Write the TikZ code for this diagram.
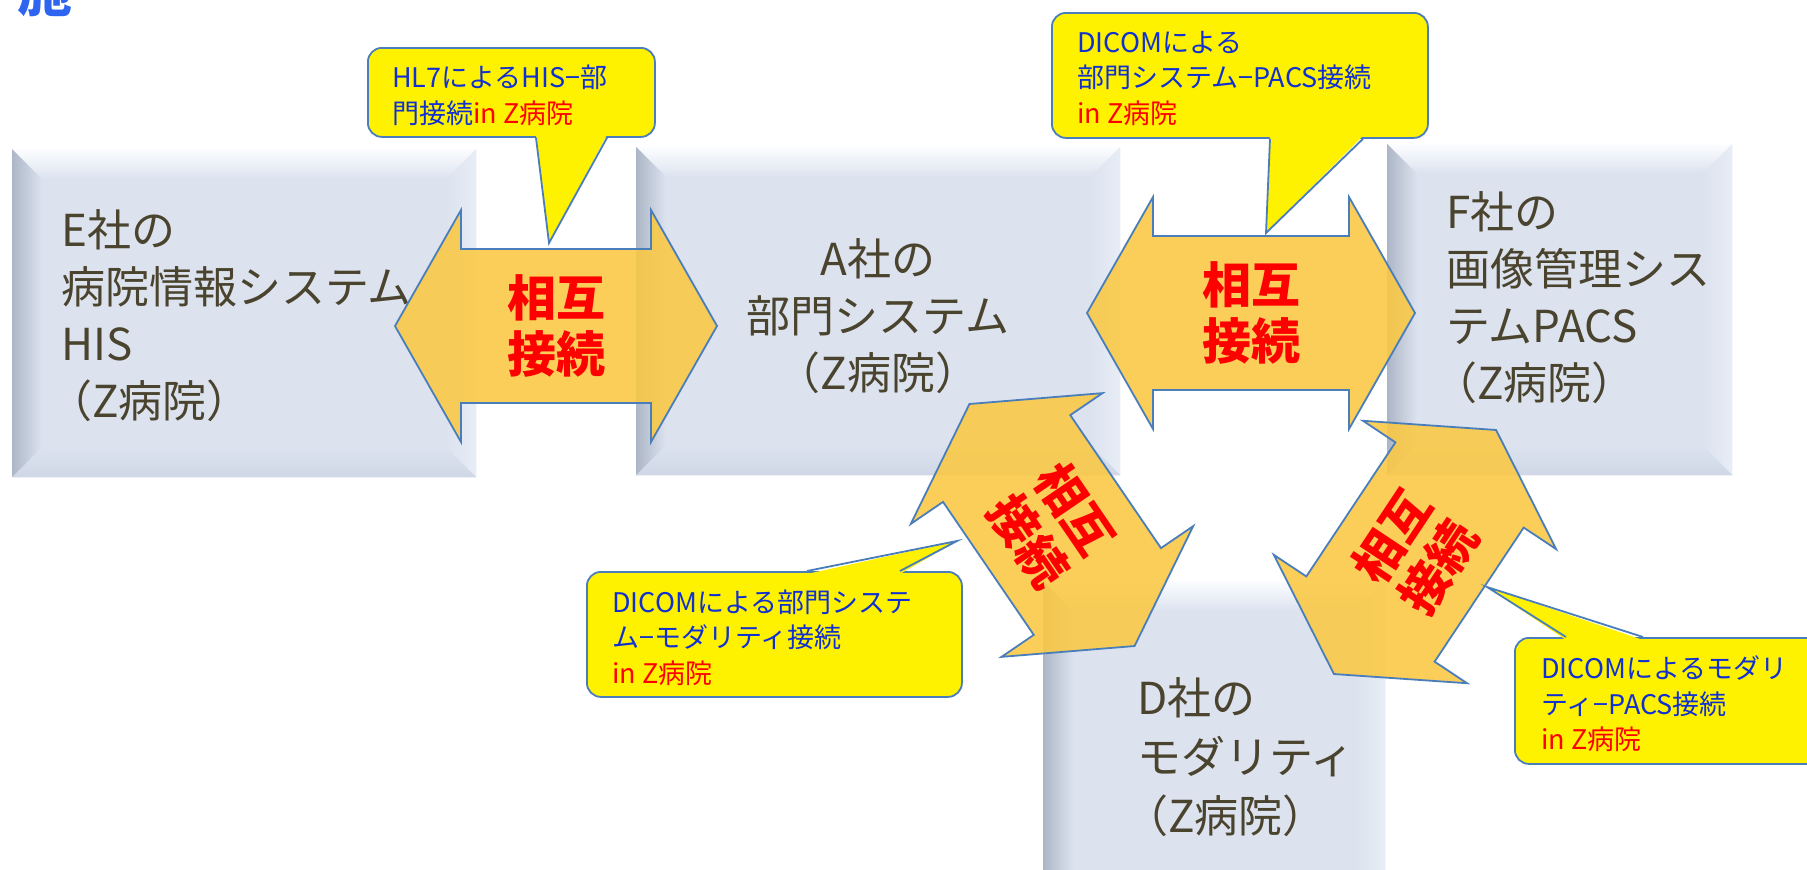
\documentclass[tikz,border=0pt]{standalone}
\usepackage{fontspec}
\setmainfont{Noto Sans CJK JP}
\definecolor{panel}{RGB}{220,227,239}
\definecolor{panelhi}{RGB}{252,253,255}
\definecolor{panelleft}{RGB}{172,182,198}
\definecolor{panelright}{RGB}{232,237,246}
\definecolor{panelbottom}{RGB}{207,215,230}
\definecolor{boxtextc}{RGB}{74,67,46}
\definecolor{arrowfill}{RGB}{250,200,66}
\definecolor{arrowline}{RGB}{74,126,187}
\definecolor{calloutline}{RGB}{74,126,187}
\definecolor{ctext}{RGB}{16,48,210}
\definecolor{topblue}{RGB}{45,100,240}
\tikzset{
  panelbox/.style={rectangle, fill=panel, inner sep=0, anchor=north west},
  boxtext/.style={font=\fontsize{44}{57}\selectfont, text=boxtextc, inner sep=0},
  bigarrow/.style={fill=arrowfill, fill opacity=0.88, draw=arrowline, line width=1.8, line join=miter},
  redtext/.style={font=\fontsize{49}{56}\selectfont\bfseries, text=red, align=center, inner sep=0},
  calloutbox/.style={rectangle, rounded corners=14, fill=yellow, draw=calloutline, line width=1.8, anchor=north west, inner sep=0},
  callouttext/.style={font=\fontsize{27}{35.5}\selectfont, text=ctext, align=left, inner sep=0, anchor=west},
  pointerline/.style={draw=calloutline, line width=1.8, line join=miter},
}
\newcommand\panelbevel[1]{%
  \shade[top color=panelhi, bottom color=panel] (#1.north west) -- (#1.north east) -- ([xshift=-30,yshift=-30]#1.north east) -- ([xshift=30,yshift=-30]#1.north west) -- cycle;
  \shade[left color=panelleft, right color=panel] (#1.north west) -- ([xshift=30,yshift=-30]#1.north west) -- ([xshift=30,yshift=30]#1.south west) -- (#1.south west) -- cycle;
  \shade[left color=panel, right color=panelright] (#1.north east) -- ([xshift=-30,yshift=-30]#1.north east) -- ([xshift=-30,yshift=30]#1.south east) -- (#1.south east) -- cycle;
  \shade[top color=panel, bottom color=panelbottom] (#1.south west) -- ([xshift=30,yshift=30]#1.south west) -- ([xshift=-30,yshift=30]#1.south east) -- (#1.south east) -- cycle;
}
\newcommand\dblarrow[5]{%
  \begin{scope}[shift={#2}, rotate=#3]
    \path[bigarrow] (-#4,0) -- (-#4+66,-116) -- (-#4+66,-77) -- (#4-66,-77) -- (#4-66,-116) -- (#4,0) -- (#4-66,116) -- (#4-66,77) -- (-#4+66,77) -- (-#4+66,116) -- cycle;
  \end{scope}
  \node[redtext, rotate=#3] (#1) at #2 {#5};
}
\newcommand\lparen{\kern-0.3em（}
\begin{document}
\begin{tikzpicture}[x=1pt, y=-1pt]
\useasboundingbox (0,0) rectangle (1807,870);
\clip (0,0) rectangle (1807,870);
\fill[white] (0,0) rectangle (1807,870);

% partial title glyph
\node[font=\fontsize{55}{55}\selectfont\bfseries, text=topblue, inner sep=0, anchor=base west] (title) at (17,11) {施};

% panels
\node[panelbox, minimum width=464, minimum height=328] (E) at (12,149) {};
\panelbevel{E}
\node[panelbox, minimum width=484, minimum height=328] (A) at (636,147) {};
\panelbevel{A}
\node[panelbox, minimum width=345, minimum height=331] (F) at (1387,144) {};
\panelbevel{F}
\node[panelbox, minimum width=342, minimum height=320] (D) at (1043,581) {};
\panelbevel{D}

% panel texts
\node[boxtext, align=left, anchor=west] (Et) at (61,316) {E社の\\病院情報システム\\HIS\\\lparen Z病院）};
\node[boxtext, align=center] (At) at (878,316) {A社の\\部門システム\\（Z病院）};
\node[boxtext, align=left, anchor=west] (Ft) at (1446,298) {F社の\\画像管理シス\\テムPACS\\\lparen Z病院）};
\node[boxtext, align=left, anchor=west, font=\fontsize{44}{59}\selectfont] (Dt) at (1137,757) {D社の\\モダリティ\\\lparen Z病院）};

% double arrows
\dblarrow{ar1}{(556,326)}{0}{161}{相互\\接続}
\dblarrow{ar2}{(1251,313)}{0}{164}{相互\\接続}
\dblarrow{ar3}{(1052,525)}{-55.7}{146.5}{相互\\接続}
\dblarrow{ar4}{(1415,552)}{56.4}{146.5}{相互\\接続}

% callout 1
\node[calloutbox, minimum width=287, minimum height=89] (c1) at (367,47) {};
\coordinate (p1) at (549,243);
\fill[yellow] ([xshift=169,yshift=3]c1.south west) -- (p1) -- ([xshift=240,yshift=3]c1.south west) -- cycle;
\path[pointerline] ([xshift=169]c1.south west) -- (p1) -- ([xshift=240]c1.south west);
\node[callouttext] (c1t) at ([xshift=25,yshift=-3]c1.west) {HL7によるHIS−部\\門接続\textcolor{red}{in Z病院}};

% callout 2
\node[calloutbox, minimum width=376, minimum height=125] (c2) at (1051,12) {};
\coordinate (p2) at (1266,233);
\fill[yellow] ([xshift=219,yshift=3]c2.south west) -- (p2) -- ([xshift=312,yshift=3]c2.south west) -- cycle;
\path[pointerline] ([xshift=219]c2.south west) -- (p2) -- ([xshift=312]c2.south west);
\node[callouttext] (c2t) at ([xshift=26,yshift=-3]c2.west) {DICOMによる\\部門システム−PACS接続\\\textcolor{red}{in Z病院}};

% callout 3
\node[calloutbox, minimum width=375, minimum height=125] (c3) at (586,571) {};
\coordinate (p3) at (957,541);
\fill[yellow] ([xshift=221,yshift=-3]c3.north west) -- (p3) -- ([xshift=314,yshift=-3]c3.north west) -- cycle;
\path[pointerline] ([xshift=221]c3.north west) -- (p3) -- ([xshift=314]c3.north west);
\node[callouttext] (c3t) at ([xshift=26,yshift=-3]c3.west) {DICOMによる部門システ\\ム−モダリティ接続\\\textcolor{red}{in Z病院}};

% callout 4
\node[calloutbox, minimum width=330, minimum height=126] (c4) at (1514,637) {};
\coordinate (p4) at (1487,587);
\fill[yellow] ([xshift=52,yshift=-3]c4.north west) -- (p4) -- ([xshift=129,yshift=-3]c4.north west) -- cycle;
\path[pointerline] ([xshift=52]c4.north west) -- (p4) -- ([xshift=129]c4.north west);
\node[callouttext] (c4t) at ([xshift=27,yshift=-3]c4.west) {DICOMによるモダリ\\ティ−PACS接続\\\textcolor{red}{in Z病院}};
\end{tikzpicture}
\end{document}
